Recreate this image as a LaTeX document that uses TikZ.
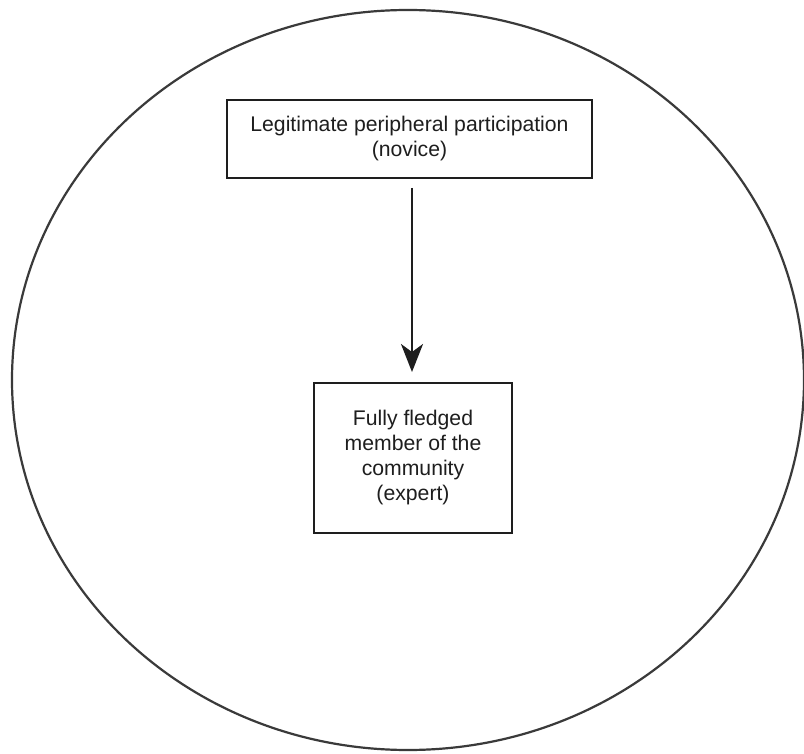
\documentclass[tikz,border=0pt]{standalone}
\usepackage{fontspec}
\setmainfont{Liberation Sans}
\usetikzlibrary{arrows.meta,shapes.geometric}
\definecolor{inkc}{HTML}{1E1E1E}
\definecolor{circc}{HTML}{3A3A3A}
\begin{document}
\begin{tikzpicture}[x=1pt,y=-1pt,
  labelbox/.style={draw=inkc, line width=2pt, text=inkc, align=center,
    font=\fontsize{21.2pt}{25pt}\selectfont, inner sep=0pt},
  flow/.style={draw=inkc, line width=2.4pt, -{Stealth[length=28pt,width=22pt,inset=8pt]}}]
\useasboundingbox (0,0) rectangle (804,754);
\fill[white] (0,0) rectangle (804,754);
\node[draw=circc, line width=2.2pt, ellipse, minimum width=792pt, minimum height=740pt, inner sep=0pt] (world) at (408,380) {};
\node[labelbox, minimum width=365pt, minimum height=78pt] (novice) at (409.5,139)
  {\raisebox{-2pt}{Legitimate peripheral participation}\\\raisebox{-2pt}{(novice)}};
\node[labelbox, minimum width=198pt, minimum height=150pt] (expert) at (413,458)
  {Fully fledged\\member of the\\community\\(expert)};
\coordinate (astart) at (412,188);
\coordinate (aend) at (412,372);
\draw[flow] (astart) -- (aend);
\end{tikzpicture}
\end{document}
